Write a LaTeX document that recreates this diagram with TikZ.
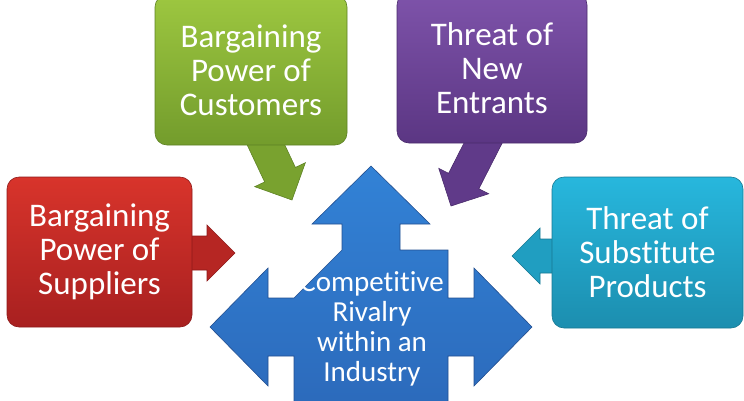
\documentclass[tikz,border=0pt]{standalone}
\usepackage{fontspec}
\setmainfont[Ligatures=NoCommon]{Carlito}
\definecolor{redT}{HTML}{D8342B}
\definecolor{redB}{HTML}{A82020}
\definecolor{redE}{HTML}{8E1A1A}
\definecolor{grnT}{HTML}{9DC740}
\definecolor{grnB}{HTML}{739C2C}
\definecolor{grnE}{HTML}{5E8224}
\definecolor{purT}{HTML}{7E53AA}
\definecolor{purB}{HTML}{5B3683}
\definecolor{purE}{HTML}{4A2B6C}
\definecolor{cyaT}{HTML}{27B7DD}
\definecolor{cyaB}{HTML}{1C8EAF}
\definecolor{cyaE}{HTML}{177892}
\definecolor{bluT}{HTML}{3282D6}
\definecolor{bluB}{HTML}{2A62B2}
\definecolor{bluE}{HTML}{234F90}
\newcommand\cArrow[3]{%
  \begin{scope}[shift={(#1)}, rotate=#2]
    \path[#3] (0,0) -- (-28,28) -- (-28,17) -- (-110,17) -- (-110,-17) -- (-28,-17) -- (-28,-28) -- cycle;
  \end{scope}}
\begin{document}
\begin{tikzpicture}[x=1pt,y=-1pt,
  box/.style={rounded corners=12pt, inner sep=0pt, text=white, align=center,
    font=\fontsize{33}{34}\selectfont, line width=0.6pt},
  ctext/.style={text=white, align=center, font=\fontsize{29}{30}\selectfont, inner sep=0pt},
  arr/.style={line width=0.6pt}]
\useasboundingbox (0,0) rectangle (744,400);
\clip (0,0) rectangle (744,400);
% tips of callout arrows
\coordinate (gtip) at (292,200);
\coordinate (ptip) at (451,206);
\coordinate (rtip) at (235,253);
\coordinate (ctip) at (512,256);
% central four-way arrow
\path[draw=bluE, line width=0.6pt, top color=bluT, bottom color=bluB]
  (342,250) -- (342,224) -- (312,224) -- (371,166) -- (430,224) -- (400,224) -- (400,250)
  -- (448,250) -- (448,298) -- (474,298) -- (474,268) -- (532,327) -- (474,386) -- (474,356)
  -- (448,356) -- (448,404) -- (400,404) -- (400,430) -- (430,430) -- (371,488) -- (312,430)
  -- (342,430) -- (342,404) -- (294,404) -- (294,356) -- (268,356) -- (268,386) -- (210,327)
  -- (268,268) -- (268,298) -- (294,298) -- cycle;
\node[ctext] (rival) at (372,329) {Competitive\\Rivalry\\within an\\Industry};
% callout arrows
\cArrow{gtip}{-64.7}{arr, fill=grnB!85!grnT, draw=grnE}
\cArrow{ptip}{-117}{arr, fill=purB!85!purT, draw=purE}
\cArrow{rtip}{0}{arr, fill=redB!70!redT, draw=redE}
\cArrow{ctip}{180}{arr, fill=cyaB!60!cyaT, draw=cyaE}
% boxes
\node[box, minimum width=192pt, minimum height=150pt, top color=grnT, bottom color=grnB, draw=grnE]
  (cust) at (251,70) {Bargaining\\Power of\\Customers};
\node[box, minimum width=190pt, minimum height=150pt, top color=purT, bottom color=purB, draw=purE]
  (entr) at (492,68) {Threat of\\New\\Entrants};
\node[box, minimum width=185pt, minimum height=150pt, top color=redT, bottom color=redB, draw=redE]
  (supp) at (99.5,252) {Bargaining\\Power of\\Suppliers};
\node[box, minimum width=191pt, minimum height=151pt, top color=cyaT, bottom color=cyaB, draw=cyaE]
  (subs) at (647.5,252.5) {Threat of\\Substitute\\Products};
\end{tikzpicture}
\end{document}
